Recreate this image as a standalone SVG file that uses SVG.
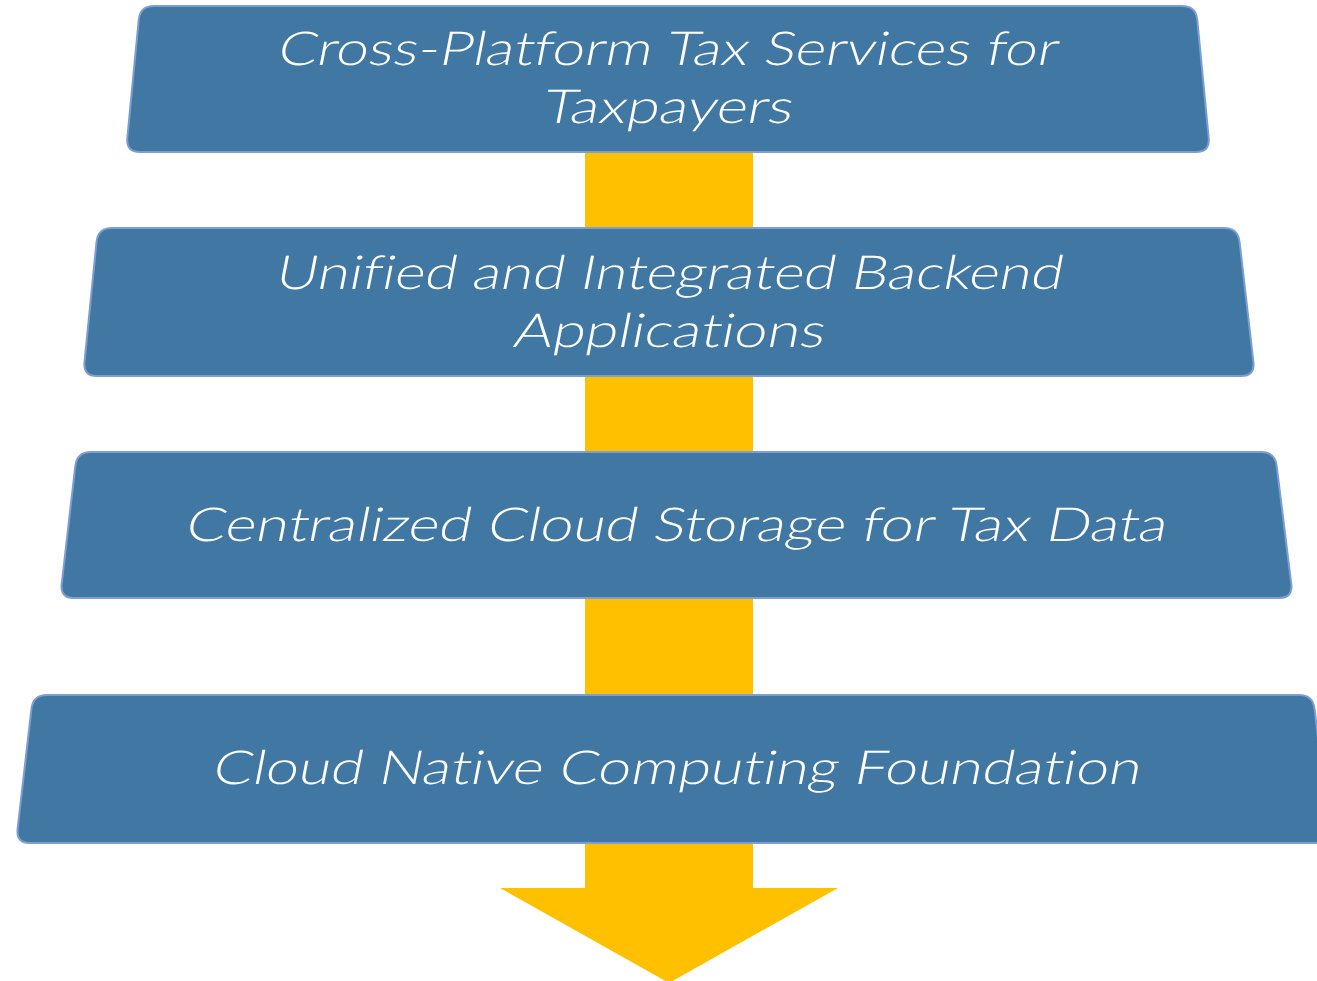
<svg xmlns="http://www.w3.org/2000/svg" width="1317" height="981" viewBox="0 0 1317 981">
<style>
.box{fill:#4177A3;stroke:#7C9ED3;stroke-width:2}
.t{fill:#FFFFFF;font-family:Lato,"Liberation Sans",sans-serif;font-weight:300;font-size:47px;text-anchor:start;font-variant-ligatures:none;font-feature-settings:"liga" 0,"clig" 0,"dlig" 0}
.arrow{fill:#FFC000}
</style>
<rect width="1317" height="981" fill="#FFFFFF"/>
<g id="connectors">
<polygon class="arrow" points="585,150 753,150 753,888 838,888 669,983 500,888 585,888"/>
</g>
<g id="node1">
<path class="box" d="M154,6 H1182 Q1196,6 1197.3,20 L1208.7,138 Q1210,152 1196,152 H140 Q126,152 127.3,138 L138.7,20 Q140,6 154,6 Z"/>
<text class="t" transform="translate(276,65) skewX(-11)" textLength="780" lengthAdjust="spacingAndGlyphs">Cross-Platform Tax Services for</text>
<text class="t" transform="translate(541,123) skewX(-11)" textLength="250" lengthAdjust="spacingAndGlyphs">Taxpayers</text>
</g>
<g id="node2">
<path class="box" d="M112,228 H1224 Q1238,228 1239.6,242 L1253.4,362 Q1255,376 1241,376 H97 Q83,376 84.5,362 L96.5,242 Q98,228 112,228 Z"/>
<text class="t" transform="translate(274,289) skewX(-11)" textLength="787" lengthAdjust="spacingAndGlyphs">Unified and Integrated Backend</text>
<text class="t" transform="translate(512,347) skewX(-11)" textLength="311" lengthAdjust="spacingAndGlyphs">Applications</text>
</g>
<g id="node3">
<path class="box" d="M91,452 H1261 Q1275,452 1276.7,466 L1291.3,584 Q1293,598 1279,598 H74 Q60,598 61.7,584 L75.3,466 Q77,452 91,452 Z"/>
<text class="t" transform="translate(184,541) skewX(-11)" textLength="981" lengthAdjust="spacingAndGlyphs">Centralized Cloud Storage for Tax Data</text>
</g>
<g id="node4">
<path class="box" d="M47,695 H1299 Q1313,695 1314.6,709 L1328.4,829 Q1330,843 1316,843 H30 Q16,843 17.6,829 L31.4,709 Q33,695 47,695 Z"/>
<text class="t" transform="translate(211,784) skewX(-11)" textLength="928" lengthAdjust="spacingAndGlyphs">Cloud Native Computing Foundation</text>
</g>
</svg>
